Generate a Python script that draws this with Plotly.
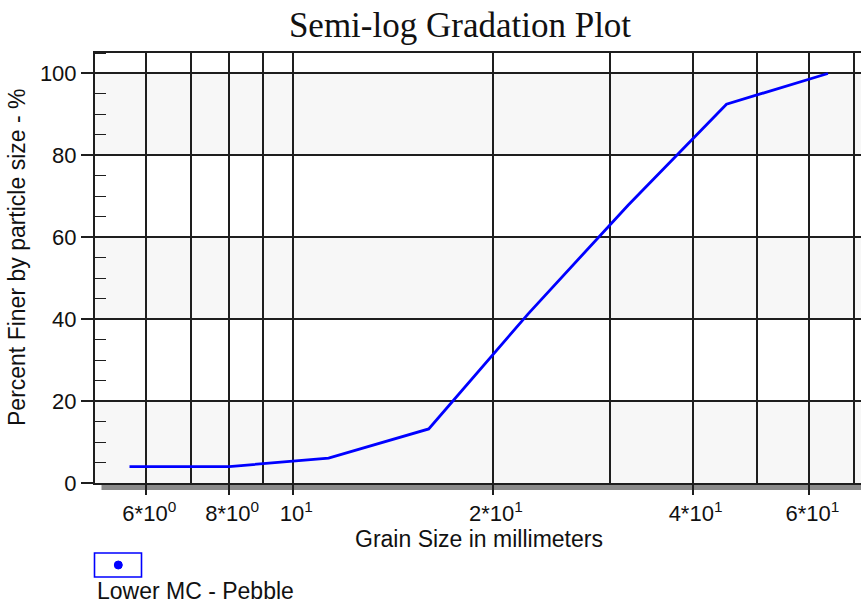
import plotly.graph_objects as go

# Pebble count: cumulative percent finer by grain size class (mm)
grain_size_mm = [5.66, 8, 11.3, 16, 22.6, 32, 45, 64]
percent_finer = [4, 4, 6.1, 13.2, 41.3, 67.9, 92.5, 100]
series_name = "Lower MC - Pebble"

x_tick_vals = [6, 8, 10, 20, 40, 60]
x_tick_text = ["6*10<sup>0</sup>", "8*10<sup>0</sup>", "10<sup>1</sup>",
               "2*10<sup>1</sup>", "4*10<sup>1</sup>", "6*10<sup>1</sup>"]
x_extra_grid = [7, 9, 30, 50, 70]
y_tick_vals = [0, 20, 40, 60, 80, 100]
shaded_bands = [(0, 20), (40, 60), (80, 100)]

W, H = 861, 605
L, R, T, B = 95, 0, 53, 122
plot_w, plot_h = W - L - R, H - T - B

def px_x(p):
    return (p - L) / plot_w

def px_y(p):
    return (H - B - p) / plot_h

FONT = "Liberation Sans, Arial, sans-serif"
INK = "#111111"
GRID = "#1e1e1e"
BLUE = "#0000ff"

fig = go.Figure()
fig.add_trace(go.Scatter(
    x=grain_size_mm, y=percent_finer, mode="lines", name=series_name,
    line=dict(color=BLUE, width=2.8), showlegend=False, hoverinfo="x+y",
))

shapes = []
for lo, hi in shaded_bands:
    shapes.append(dict(type="rect", xref="paper", yref="y", x0=0, x1=1, y0=lo, y1=hi,
                       fillcolor="#f7f7f7", line=dict(width=0), layer="below"))
# drop shadow under the bottom axis
shapes.append(dict(type="rect", xref="paper", yref="paper",
                   x0=px_x(101.5), x1=1, y0=px_y(490), y1=px_y(484),
                   fillcolor="#8a8a8a", line=dict(width=0), layer="below"))
# legend key: framed box with a dot
shapes.append(dict(type="rect", xref="paper", yref="paper",
                   x0=px_x(94.5), x1=px_x(141.5), y0=px_y(577), y1=px_y(553),
                   fillcolor="white", line=dict(color=BLUE, width=1.6)))
shapes.append(dict(type="circle", xref="paper", yref="paper",
                   xsizemode="pixel", ysizemode="pixel",
                   xanchor=px_x(118.3), yanchor=px_y(565), x0=-4, x1=4, y0=-4, y1=4,
                   fillcolor=BLUE, line=dict(color=BLUE, width=1)))

annotations = [
    dict(text="Grain Size in millimeters", xref="paper", yref="paper",
         x=px_x(479), y=px_y(539), xanchor="center", yanchor="middle",
         showarrow=False, font=dict(family=FONT, size=23, color=INK)),
    dict(text="Percent Finer by particle size - %", xref="paper", yref="paper",
         x=px_x(17), y=px_y(258), xanchor="center", yanchor="middle", textangle=-90,
         showarrow=False, font=dict(family=FONT, size=23, color=INK)),
    dict(text=series_name, xref="paper", yref="paper",
         x=px_x(95), y=px_y(591), xanchor="left", yanchor="middle",
         showarrow=False, font=dict(family=FONT, size=23, color=INK)),
]

fig.update_layout(
    width=W, height=H,
    margin=dict(l=L, r=R, t=T, b=B, pad=0),
    paper_bgcolor="white", plot_bgcolor="white",
    title=dict(text="Semi-log Gradation Plot", x=460 / W, xref="container",
               y=1 - 25 / H, yref="container", xanchor="center", yanchor="middle",
               font=dict(family="Liberation Serif, Times New Roman, serif", size=35, color=INK)),
    shapes=shapes, annotations=annotations, showlegend=False,
    font=dict(family=FONT, color=INK),
)

fig.update_xaxes(
    type="log", range=[0.7008, 1.8561],
    tickmode="array", tickvals=x_tick_vals, ticktext=x_tick_text,
    ticks="outside", ticklen=10, tickwidth=1.6, tickcolor=GRID,
    tickfont=dict(family=FONT, size=22, color=INK), ticklabelshift=3,
    showgrid=True, gridcolor=GRID, gridwidth=1.6,
    minor=dict(tickmode="array", tickvals=x_extra_grid, showgrid=True,
               gridcolor=GRID, gridwidth=1.6, ticks=""),
    showline=True, linecolor=GRID, linewidth=2, mirror=True,
    zeroline=False,
)
fig.update_yaxes(
    range=[0, 105],
    tickmode="array", tickvals=y_tick_vals,
    ticks="outside", ticklen=12, tickwidth=1.6, tickcolor=GRID,
    tickfont=dict(family=FONT, size=22, color=INK),
    showgrid=True, gridcolor=GRID, gridwidth=1.6,
    minor=dict(dtick=5, tick0=0, ticks="inside", ticklen=11, tickwidth=1.4,
               tickcolor=GRID, showgrid=False),
    showline=True, linecolor=GRID, linewidth=2, mirror=False,
    zeroline=False,
)

fig.write_html("out.html")
